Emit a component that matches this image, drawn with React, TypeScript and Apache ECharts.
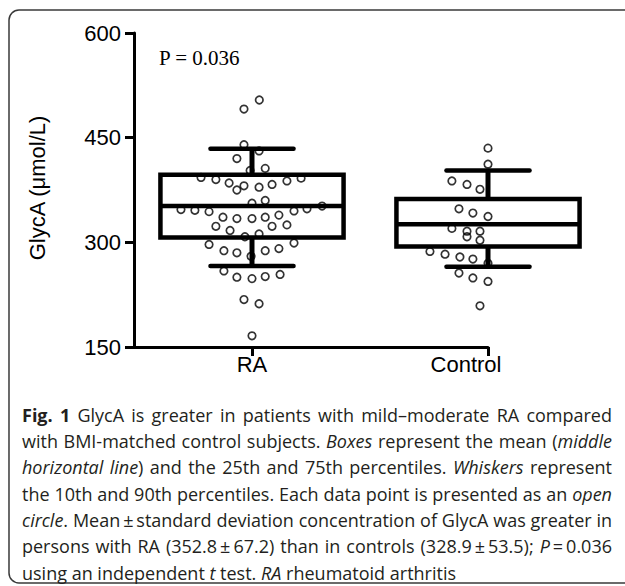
import React, { useEffect, useLayoutEffect, useRef } from "react";
import * as echarts from "echarts";

const categories = ["RA", "Control"];
const yTicks = [150, 300, 450, 600];
// box stats: [p10, q1, mean, q3, p90]
const raBox = [266, 307, 352, 397, 434];
const controlBox = [265, 294, 326, 362, 403];
// points: [horizontal jitter (category units), GlycA value]
const raPoints = [
  [0.031, 504], [-0.034, 491], [-0.034, 440], [0.03, 431], [-0.064, 420],
  [-0.008, 403], [0.056, 406], [-0.216, 393], [-0.153, 390], [-0.097, 385],
  [-0.064, 375], [-0.034, 381], [0.03, 379], [0.085, 383], [0.148, 388],
  [0.208, 392], [0.0, 356], [0.056, 360], [-0.301, 347], [-0.242, 346],
  [-0.182, 344], [0.178, 345], [0.233, 348], [0.297, 352], [-0.123, 336],
  [-0.064, 334], [0.0, 334], [0.056, 336], [0.114, 339], [-0.153, 323],
  [-0.093, 317], [0.085, 323], [0.148, 325], [-0.03, 308], [0.03, 312],
  [-0.182, 297], [-0.119, 288], [-0.064, 285], [-0.004, 280], [0.056, 288],
  [0.114, 291], [0.178, 299], [-0.119, 259], [-0.064, 250], [0.0, 248],
  [0.056, 251], [0.119, 254], [-0.034, 218], [0.03, 212], [0.0, 166],
];
const controlPoints = [
  [0.0, 435], [0.0, 412], [-0.153, 388], [-0.089, 383], [-0.034, 376],
  [0.03, 379], [0.081, 386], [0.148, 388], [-0.123, 348], [-0.064, 342],
  [0.0, 337], [0.059, 342], [0.114, 351], [0.148, 334], [-0.153, 320],
  [-0.089, 316], [-0.089, 308], [-0.034, 316], [-0.034, 303], [0.03, 319],
  [0.081, 317], [0.081, 307], [-0.246, 287], [-0.182, 283], [-0.119, 279],
  [-0.064, 276], [0.0, 270], [0.034, 286], [0.064, 271], [0.119, 276],
  [0.182, 279], [0.237, 286], [0.114, 260], [-0.123, 256], [-0.064, 249],
  [0.0, 244], [0.059, 252], [0.03, 222], [-0.034, 209],
];
const pLabel = "P = 0.036";
const yTitle = "GlycA (μmol/L)";
const captionLines = [
  "{b|Fig. 1} GlycA is greater in patients with mild–moderate RA compared",
  "with BMI-matched control subjects. {i|Boxes} represent the mean ({i|middle}",
  "{i|horizontal line}) and the 25th and 75th percentiles. {i|Whiskers} represent",
  "the 10th and 90th percentiles. Each data point is presented as an {i|open}",
  "{i|circle}. Mean\u2009±\u2009standard deviation concentration of GlycA was greater in",
  "persons with RA (352.8\u2009±\u200967.2) than in controls (328.9\u2009±\u200953.5); {i|P}\u2009=\u20090.036",
  "using an independent {i|t} test. {i|RA} rheumatoid arthritis",
];

const BOX_HALF = 0.388;
const CAP_HALF = 0.176;
const CAP_WIDTH = 590;

function renderSegments(line: string) {
  const parts: React.ReactNode[] = [];
  const re = /\{(b|i)\|([^}]*)\}/g;
  let last = 0;
  let m: RegExpExecArray | null;
  let k = 0;
  while ((m = re.exec(line))) {
    if (m.index > last) parts.push(line.slice(last, m.index));
    if (m[1] === "b") parts.push(<b key={k++}>{m[2]}</b>);
    else parts.push(<i key={k++}>{m[2]}</i>);
    last = m.index + m[0].length;
  }
  if (last < line.length) parts.push(line.slice(last));
  return parts;
}

export default function App() {
  const ref = useRef<HTMLDivElement>(null);
  const capRef = useRef<HTMLDivElement>(null);

  useLayoutEffect(() => {
    const cap = capRef.current;
    if (!cap) return;
    Array.from(cap.children).forEach((el) => {
      const div = el as HTMLDivElement;
      const probe = document.createElement("span");
      probe.style.whiteSpace = "nowrap";
      probe.style.display = "inline-block";
      probe.style.position = "absolute";
      probe.style.visibility = "hidden";
      probe.innerHTML = div.innerHTML;
      cap.appendChild(probe);
      const w = probe.getBoundingClientRect().width;
      cap.removeChild(probe);
      if (w > CAP_WIDTH - 1) {
        const n = (div.textContent || "").length;
        div.style.letterSpacing = -((w - CAP_WIDTH + 2) / n).toFixed(3) + "px";
      }
    });
  }, []);

  useEffect(() => {
    if (!ref.current) return;
    const chart = echarts.init(ref.current, null, { renderer: "svg" });
    const boxes = [raBox, controlBox].map((b, i) => [i + 1, ...b]);
    const toScatter = (pts: number[][], cat: number) =>
      pts.map((p) => [cat + p[0], p[1]]);
    const axisFont = "Liberation Sans";
    chart.setOption({
      animation: false,
      grid: { left: 134, top: 33, width: 354, height: 314, containLabel: false },
      xAxis: {
        type: "value",
        min: 0.5,
        max: 2.0,
        splitLine: { show: false },
        axisLine: { show: true, lineStyle: { color: "#000", width: 3 } },
        axisTick: {
          show: true,
          customValues: [1, 2],
          length: 9,
          lineStyle: { color: "#000", width: 3 },
        },
        axisLabel: {
          customValues: [1, 2],
          margin: 6,
          color: "#000",
          fontFamily: axisFont,
          fontSize: 22,
          formatter: (v: number) =>
            v === 1 ? "{a|" + categories[0] + "}" : "{c|" + categories[1] + "}",
          rich: {
            a: { fontFamily: axisFont, fontSize: 22, color: "#000" },
            c: { fontFamily: axisFont, fontSize: 22, color: "#000", padding: [0, 44, 0, 0] },
          },
        },
      },
      yAxis: {
        type: "value",
        min: yTicks[0],
        max: yTicks[yTicks.length - 1],
        interval: 150,
        splitLine: { show: false },
        axisLine: { show: true, lineStyle: { color: "#000", width: 3 } },
        axisTick: { show: true, length: 9, lineStyle: { color: "#000", width: 3 } },
        axisLabel: { color: "#000", fontFamily: axisFont, fontSize: 22, margin: 13 },
      },
      series: [
        {
          type: "scatter",
          z: 2,
          symbol: "circle",
          symbolSize: 7.5,
          itemStyle: { color: "rgba(255,255,255,0)", borderColor: "#000", borderWidth: 1.7 },
          data: toScatter(raPoints, 1),
        },
        {
          type: "scatter",
          z: 2,
          symbol: "circle",
          symbolSize: 7.5,
          itemStyle: { color: "rgba(255,255,255,0)", borderColor: "#000", borderWidth: 1.7 },
          data: toScatter(controlPoints, 2),
        },
        {
          type: "custom",
          z: 3,
          clip: false,
          data: boxes,
          renderItem: (params: any, api: any) => {
            const c = api.value(0);
            const p10 = api.coord([c, api.value(1)]);
            const q1 = api.coord([c, api.value(2)]);
            const mean = api.coord([c, api.value(3)]);
            const q3 = api.coord([c, api.value(4)]);
            const p90 = api.coord([c, api.value(5)]);
            const hb = api.size([BOX_HALF, 0])[0];
            const hc = api.size([CAP_HALF, 0])[0];
            const cx = p10[0];
            const st = { stroke: "#000", lineWidth: 4.5, fill: "none" };
            return {
              type: "group",
              children: [
                { type: "line", shape: { x1: cx, y1: q3[1], x2: cx, y2: p90[1] }, style: { stroke: "#000", lineWidth: 5 } },
                { type: "line", shape: { x1: cx, y1: q1[1], x2: cx, y2: p10[1] }, style: { stroke: "#000", lineWidth: 5 } },
                { type: "line", shape: { x1: cx - hc, y1: p90[1], x2: cx + hc, y2: p90[1] }, style: { stroke: "#000", lineWidth: 4.5, lineCap: "round" } },
                { type: "line", shape: { x1: cx - hc, y1: p10[1], x2: cx + hc, y2: p10[1] }, style: { stroke: "#000", lineWidth: 4.5, lineCap: "round" } },
                { type: "rect", shape: { x: cx - hb, y: q3[1], width: 2 * hb, height: q1[1] - q3[1] }, style: { ...st, fill: "rgba(0,0,0,0)" } },
                { type: "line", shape: { x1: cx - hb, y1: mean[1], x2: cx + hb, y2: mean[1] }, style: st },
              ],
            };
          },
        },
      ],
      graphic: [
        {
          type: "rect",
          silent: true,
          shape: { x: 9, y: 10, width: 640, height: 573, r: 10 },
          style: { fill: "none", stroke: "#3a3a3a", lineWidth: 1.5 },
        },
        {
          type: "text",
          x: 159,
          y: 58,
          style: {
            text: pLabel,
            fontFamily: "Liberation Serif",
            fontSize: 21,
            fill: "#000",
            verticalAlign: "middle",
          },
        },
        {
          type: "text",
          x: 37,
          y: 188,
          rotation: Math.PI / 2,
          style: {
            text: yTitle,
            fontFamily: axisFont,
            fontSize: 22,
            fill: "#000",
            align: "center",
            verticalAlign: "middle",
          },
        },
      ],
    });
    return () => chart.dispose();
  }, []);
  const lh = 26.3;
  return (
    <div style={{ position: "absolute", left: 0, top: 0, width: 625, height: 586, background: "#fff" }}>
      <div ref={ref} style={{ position: "absolute", left: 0, top: 0, width: 625, height: 586 }} />
      <div
        ref={capRef}
        style={{
          position: "absolute",
          left: 22,
          top: 415 - lh / 2,
          width: CAP_WIDTH,
          fontFamily: '"Open Sans", sans-serif',
          fontSize: 18,
          lineHeight: lh + "px",
          color: "#231f20",
        }}
      >
        {captionLines.map((line, i) => {
          const isLast = i === captionLines.length - 1;
          return (
            <div
              key={i}
              style={{
                height: lh,
                textAlign: isLast ? "left" : "justify",
                textAlignLast: isLast ? "left" : "justify",
              } as React.CSSProperties}
            >
              {renderSegments(line)}
            </div>
          );
        })}
      </div>
    </div>
  );
}
